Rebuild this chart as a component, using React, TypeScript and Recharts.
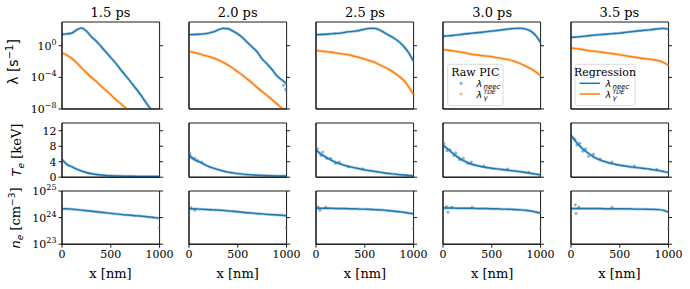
import React from "react";
import { ComposedChart, Line, Scatter, XAxis, YAxis, ReferenceArea, ReferenceLine } from "recharts";

const BLUE = "#1f77b4";
const ORANGE = "#ff7f0e";
const SERIF = "DejaVu Serif";
const SANS = "DejaVu Sans";

const times = ["1.5 ps", "2.0 ps", "2.5 ps", "3.0 ps", "3.5 ps"];
const xGrid = [0, 50, 100, 150, 200, 250, 300, 350, 400, 450, 500, 550, 600, 650, 700, 750, 800, 850, 900, 950, 1000];
const xTicks = [0, 500, 1000];

// log10 of lambda_neec [1/s], one row per time
const neecLog = [
  [1.45, 1.5, 1.6, 2.0, 2.25, 1.85, 1.15, 0.6, -0.1, -0.8, -1.5, -2.2, -3.0, -3.75, -4.5, -5.3, -6.1, -7.0, -7.85, -8.7, -9.5],
  [1.4, 1.42, 1.45, 1.5, 1.6, 1.75, 2.0, 2.2, 2.15, 1.85, 1.5, 1.0, 0.4, -0.2, -0.8, -1.7, -2.3, -3.0, -3.8, -4.3, -4.8],
  [1.4, 1.42, 1.45, 1.5, 1.55, 1.6, 1.7, 1.78, 1.85, 1.95, 2.1, 2.2, 2.2, 2.0, 1.65, 1.3, 0.95, 0.5, -0.1, -0.9, -2.0],
  [1.2, 1.25, 1.3, 1.37, 1.45, 1.52, 1.6, 1.65, 1.7, 1.78, 1.85, 1.92, 2.0, 2.08, 2.15, 2.2, 2.2, 2.1, 1.85, 1.3, 0.4],
  [1.05, 1.1, 1.15, 1.22, 1.3, 1.35, 1.4, 1.45, 1.5, 1.55, 1.6, 1.68, 1.75, 1.82, 1.9, 1.95, 2.0, 2.08, 2.15, 2.2, 2.05],
];

// log10 of lambda_gamma^TDE [1/s]
const tdeLog = [
  [-0.9, -1.2, -1.6, -2.15, -2.8, -3.4, -4.0, -4.5, -5.1, -5.65, -6.2, -6.8, -7.3, -7.85, -8.4, -9.0, -9.6, -10.2, -10.8, -11.4, -12.0],
  [-0.7, -0.85, -1.0, -1.2, -1.35, -1.55, -1.8, -2.1, -2.45, -2.85, -3.3, -3.75, -4.25, -4.75, -5.3, -5.8, -6.3, -6.8, -7.35, -7.9, -8.5],
  [-0.6, -0.68, -0.75, -0.82, -0.9, -1.0, -1.1, -1.2, -1.35, -1.5, -1.7, -1.9, -2.1, -2.4, -2.7, -3.0, -3.4, -3.85, -4.4, -5.2, -6.2],
  [-0.5, -0.57, -0.65, -0.75, -0.85, -0.97, -1.1, -1.17, -1.25, -1.32, -1.4, -1.5, -1.6, -1.72, -1.85, -2.05, -2.3, -2.6, -2.9, -3.3, -3.8],
  [-0.3, -0.37, -0.45, -0.55, -0.65, -0.72, -0.8, -0.88, -0.95, -1.05, -1.15, -1.25, -1.35, -1.45, -1.55, -1.62, -1.7, -1.78, -1.9, -2.15, -2.5],
];

// electron temperature [keV]
const teKeV = [
  [4.6, 3.3, 2.7, 2.1, 1.6, 1.2, 0.9, 0.7, 0.55, 0.45, 0.38, 0.33, 0.3, 0.27, 0.25, 0.23, 0.21, 0.2, 0.19, 0.18, 0.17],
  [5.8, 4.6, 4.0, 3.4, 2.8, 2.35, 1.95, 1.6, 1.3, 1.1, 0.92, 0.78, 0.67, 0.58, 0.5, 0.45, 0.4, 0.36, 0.33, 0.31, 0.3],
  [7.0, 6.0, 5.2, 4.5, 3.9, 3.4, 3.0, 2.7, 2.4, 2.15, 1.9, 1.7, 1.5, 1.3, 1.1, 0.95, 0.8, 0.67, 0.55, 0.45, 0.35],
  [8.3, 7.2, 6.2, 5.2, 4.4, 3.8, 3.3, 3.0, 2.7, 2.5, 2.3, 2.15, 2.0, 1.85, 1.7, 1.55, 1.4, 1.2, 1.0, 0.8, 0.6],
  [10.8, 9.2, 7.8, 6.7, 5.8, 5.0, 4.4, 4.0, 3.6, 3.35, 3.1, 2.9, 2.7, 2.55, 2.4, 2.25, 2.1, 1.9, 1.7, 1.45, 1.2],
];

// log10 of electron density [cm^-3]
const neLog = [
  [24.33, 24.33, 24.32, 24.3, 24.28, 24.26, 24.24, 24.22, 24.2, 24.18, 24.16, 24.14, 24.12, 24.1, 24.09, 24.07, 24.06, 24.04, 24.02, 24.0, 23.97],
  [24.33, 24.33, 24.32, 24.31, 24.3, 24.29, 24.28, 24.27, 24.25, 24.24, 24.22, 24.2, 24.18, 24.17, 24.15, 24.14, 24.12, 24.11, 24.1, 24.09, 24.07],
  [24.35, 24.35, 24.35, 24.35, 24.34, 24.34, 24.34, 24.33, 24.33, 24.32, 24.32, 24.31, 24.3, 24.29, 24.28, 24.26, 24.24, 24.22, 24.2, 24.17, 24.14],
  [24.36, 24.36, 24.36, 24.35, 24.35, 24.35, 24.35, 24.34, 24.34, 24.34, 24.33, 24.33, 24.32, 24.32, 24.31, 24.3, 24.29, 24.27, 24.25, 24.21, 24.17],
  [24.34, 24.34, 24.34, 24.34, 24.34, 24.34, 24.34, 24.33, 24.33, 24.33, 24.33, 24.33, 24.33, 24.32, 24.32, 24.32, 24.31, 24.31, 24.3, 24.27, 24.2],
];

// raw PIC samples lying off the fitted curves: [x nm, value]
const neecRawOff = [[], [[970, -5.0], [990, -5.5], [1000, -5.7]], [], [], [[1000, 1.4]]];
const teRawOff = [
  [],
  [[10, 6.1], [30, 5.0], [60, 4.9], [90, 4.3], [130, 3.9]],
  [[15, 7.4], [50, 5.6], [70, 6.5], [110, 4.9], [150, 4.9], [200, 3.6], [240, 3.9], [330, 2.7], [480, 2.2]],
  [[10, 8.7], [40, 6.8], [70, 7.1], [110, 5.6], [130, 6.3], [170, 4.6], [210, 4.9], [250, 3.6], [290, 3.9], [420, 2.9], [660, 2.1], [880, 1.3]],
  [[10, 10.2], [40, 9.8], [60, 8.3], [90, 8.8], [120, 6.7], [150, 7.3], [180, 5.4], [230, 6.0], [300, 4.7], [420, 3.9], [650, 2.9], [880, 2.0]],
];
const neRawLogOff = [
  [[1000, 23.64]],
  [[20, 24.38], [60, 24.28], [1000, 23.64]],
  [[20, 24.41], [40, 24.28], [100, 24.4], [1000, 23.59]],
  [[35, 24.42], [51, 24.2], [90, 24.39], [300, 24.39], [1000, 23.59]],
  [[44, 24.48], [51, 24.15], [80, 24.4], [420, 24.39], [1000, 23.59]],
];

const colLeft = [61.7, 188.9, 316.2, 443.4, 570.6];
const plotW = 97.6;
const rows = [
  { top: 22.3, h: 87 },
  { top: 122.8, h: 54.2 },
  { top: 191.3, h: 53.2 },
];
const ML = 44;
const MR = 18;
const MT = 8;
const MB = 22;
const TICK_NM = 36; // outward tick length on the right frame, in nm (about 3.5 px)

const sup = (e: number) => (e < 0 ? "\u2212" + -e : String(e));

const LogTick = (props: any) => {
  const { x, y, payload } = props;
  const e = Math.round(Math.log10(payload.value));
  return (
    <text x={x} y={y} dy={4} textAnchor="end" fontFamily={SERIF} fontSize={11} fill="#000">
      10
      <tspan dy={-5} fontSize={8}>
        {sup(e)}
      </tspan>
    </text>
  );
};

const Dot = (color: string) => (p: any) => (
  <circle cx={p.cx} cy={p.cy} r={1.5} fill={color} fillOpacity={0.55} />
);

const axisStroke = { stroke: "#000", strokeWidth: 0.9 };

function Panel({ col, row, children, yProps, showY }: any) {
  const r = rows[row];
  const showX = row === 2;
  return (
    <div style={{ position: "absolute", left: colLeft[col] - ML, top: r.top - MT }}>
      <ComposedChart
        width={ML + plotW + MR}
        height={MT + r.h + MB}
        margin={{ top: MT, right: MR, bottom: 0, left: 0 }}
      >
        <XAxis
          type="number"
          dataKey="x"
          domain={[0, 1000]}
          ticks={xTicks}
          interval={0}
          allowDataOverflow
          height={MB}
          tickSize={3.5}
          tickMargin={3}
          axisLine={axisStroke}
          tickLine={axisStroke}
          tick={showX ? { fontFamily: SERIF, fontSize: 11, fill: "#000" } : false}
        />
        <YAxis {...yProps} width={ML} interval={0} tickSize={3.5} tickMargin={2} axisLine={axisStroke} tickLine={axisStroke} tick={showY ? yProps.tick : false} allowDataOverflow />
        {children}
        <ReferenceArea
          x1={0}
          x2={1000}
          y1={yProps.domain[0]}
          y2={yProps.domain[1]}
          fill="none"
          fillOpacity={0}
          stroke="#000"
          strokeWidth={0.9}
          ifOverflow="visible"
        />
        {yProps.ticks.map((v: number) => (
          <ReferenceLine
            key={v}
            segment={[
              { x: 1000, y: v },
              { x: 1000 + TICK_NM, y: v },
            ]}
            stroke="#000"
            strokeWidth={0.9}
            ifOverflow="visible"
          />
        ))}
      </ComposedChart>
    </div>
  );
}

const lamAxis = { type: "number", scale: "log", domain: [1e-8, 1e3], ticks: [1e-8, 1e-4, 1], tick: <LogTick /> };
const teAxis = { type: "number", domain: [0, 14], ticks: [0, 4, 8, 12], tick: { fontFamily: SERIF, fontSize: 11, fill: "#000" } };
const neAxis = { type: "number", scale: "log", domain: [1e23, 1e25], ticks: [1e23, 1e24, 1e25], tick: <LogTick /> };

const Sym = ({ x, y, sub, supTxt }: { x: number; y: number; sub: string; supTxt?: string }) => (
  <g fontFamily={SANS} fontStyle="italic">
    <text x={x} y={y} fontSize={9.5}>λ</text>
    <text x={x + 7} y={y + 2.2} fontSize={7}>{sub}</text>
    {supTxt ? <text x={x + 7} y={y - 4.3} fontSize={6}>{supTxt}</text> : null}
  </g>
);

export default function App() {
  return (
    <div style={{ position: "absolute", left: 0, top: 0, width: 690, height: 289, background: "#fff" }}>
      {times.map((t, i) => {
        const lam = xGrid.map((x, j) => ({ x, neec: 10 ** neecLog[i][j], tde: 10 ** tdeLog[i][j] }));
        const lamOff = neecRawOff[i].map(([x, v]) => ({ x, neec: 10 ** v }));
        const te = xGrid.map((x, j) => ({ x, te: teKeV[i][j] }));
        const teOff = teRawOff[i].map(([x, v]) => ({ x, te: v }));
        const ne = xGrid.map((x, j) => ({ x, ne: 10 ** neLog[i][j] }));
        const neOff = neRawLogOff[i].map(([x, v]) => ({ x, ne: 10 ** v }));
        return (
          <React.Fragment key={t}>
            <Panel col={i} row={0} yProps={lamAxis} showY={i === 0}>
              <Line data={lam} dataKey="neec" type="monotone" stroke={BLUE} strokeWidth={2.8} strokeOpacity={0.4} dot={false} isAnimationActive={false} />
              <Line data={lam} dataKey="tde" type="monotone" stroke={ORANGE} strokeWidth={2.8} strokeOpacity={0.4} dot={false} isAnimationActive={false} />
              <Line data={lam} dataKey="neec" type="monotone" stroke={BLUE} strokeWidth={1.4} dot={false} isAnimationActive={false} />
              <Line data={lam} dataKey="tde" type="monotone" stroke={ORANGE} strokeWidth={1.4} dot={false} isAnimationActive={false} />
              <Scatter data={lamOff} dataKey="neec" shape={Dot(BLUE)} isAnimationActive={false} />
            </Panel>
            <Panel col={i} row={1} yProps={teAxis} showY={i === 0}>
              <Line data={te} dataKey="te" type="monotone" stroke={BLUE} strokeWidth={2.8} strokeOpacity={0.4} dot={false} isAnimationActive={false} />
              <Line data={te} dataKey="te" type="monotone" stroke={BLUE} strokeWidth={1.4} dot={false} isAnimationActive={false} />
              <Scatter data={teOff} dataKey="te" shape={Dot(BLUE)} isAnimationActive={false} />
            </Panel>
            <Panel col={i} row={2} yProps={neAxis} showY={i === 0}>
              <Line data={ne} dataKey="ne" type="monotone" stroke={BLUE} strokeWidth={2.8} strokeOpacity={0.4} dot={false} isAnimationActive={false} />
              <Line data={ne} dataKey="ne" type="monotone" stroke={BLUE} strokeWidth={1.4} dot={false} isAnimationActive={false} />
              <Scatter data={neOff} dataKey="ne" shape={Dot(BLUE)} isAnimationActive={false} />
            </Panel>
          </React.Fragment>
        );
      })}
      <svg width={690} height={289} style={{ position: "absolute", left: 0, top: 0, pointerEvents: "none" }}>
        {times.map((t, i) => (
          <text key={t} x={colLeft[i] + plotW / 2} y={17} textAnchor="middle" fontFamily={SERIF} fontSize={13}>
            {t}
          </text>
        ))}
        {times.map((t, i) => (
          <text key={"x" + t} x={colLeft[i] + plotW / 2} y={278} textAnchor="middle" fontFamily={SERIF} fontSize={13}>
            x [nm]
          </text>
        ))}
        <text transform="translate(18,62) rotate(-90)" textAnchor="middle" fontFamily={SANS} fontSize={14}>
          λ [s<tspan dy={-5} fontSize={10}>−1</tspan>
          <tspan dy={5}>]</tspan>
        </text>
        <text transform="translate(21,150) rotate(-90)" textAnchor="middle" fontFamily={SERIF} fontSize={13}>
          <tspan fontFamily={SANS} fontStyle="italic">T</tspan>
          <tspan fontFamily={SANS} fontStyle="italic" dy={3} fontSize={9}>e</tspan>
          <tspan dy={-3}> [keV]</tspan>
        </text>
        <text transform="translate(20,218) rotate(-90)" textAnchor="middle" fontFamily={SERIF} fontSize={13}>
          <tspan fontFamily={SANS} fontStyle="italic">n</tspan>
          <tspan fontFamily={SANS} fontStyle="italic" dy={3} fontSize={9}>e</tspan>
          <tspan dy={-3}> [cm</tspan>
          <tspan dy={-5} fontSize={9} fontFamily={SANS}>−3</tspan>
          <tspan dy={5}>]</tspan>
        </text>
        <g>
          <rect x={447.7} y={64.3} width={55.3} height={41.4} rx={2.5} fill="#fff" fillOpacity={0.85} stroke="#d0d0d0" strokeWidth={0.8} />
          <text x={475.3} y={76} textAnchor="middle" fontFamily={SERIF} fontSize={11}>Raw PIC</text>
          <circle cx={461} cy={83.3} r={1.5} fill={BLUE} fillOpacity={0.6} />
          <circle cx={461} cy={94} r={1.5} fill={ORANGE} fillOpacity={0.6} />
          <Sym x={476.5} y={86.6} sub="neec" />
          <Sym x={476.5} y={97.8} sub="γ" supTxt="TDE" />
        </g>
        <g>
          <rect x={575} y={64.3} width={60} height={41.4} rx={2.5} fill="#fff" fillOpacity={0.85} stroke="#d0d0d0" strokeWidth={0.8} />
          <text x={605} y={76} textAnchor="middle" fontFamily={SERIF} fontSize={11}>Regression</text>
          <line x1={579.5} x2={600} y1={83.3} y2={83.3} stroke={BLUE} strokeWidth={1.5} />
          <line x1={579.5} x2={600} y1={94} y2={94} stroke={ORANGE} strokeWidth={1.5} />
          <Sym x={605.5} y={86.6} sub="neec" />
          <Sym x={605.5} y={97.8} sub="γ" supTxt="TDE" />
        </g>
      </svg>
    </div>
  );
}
